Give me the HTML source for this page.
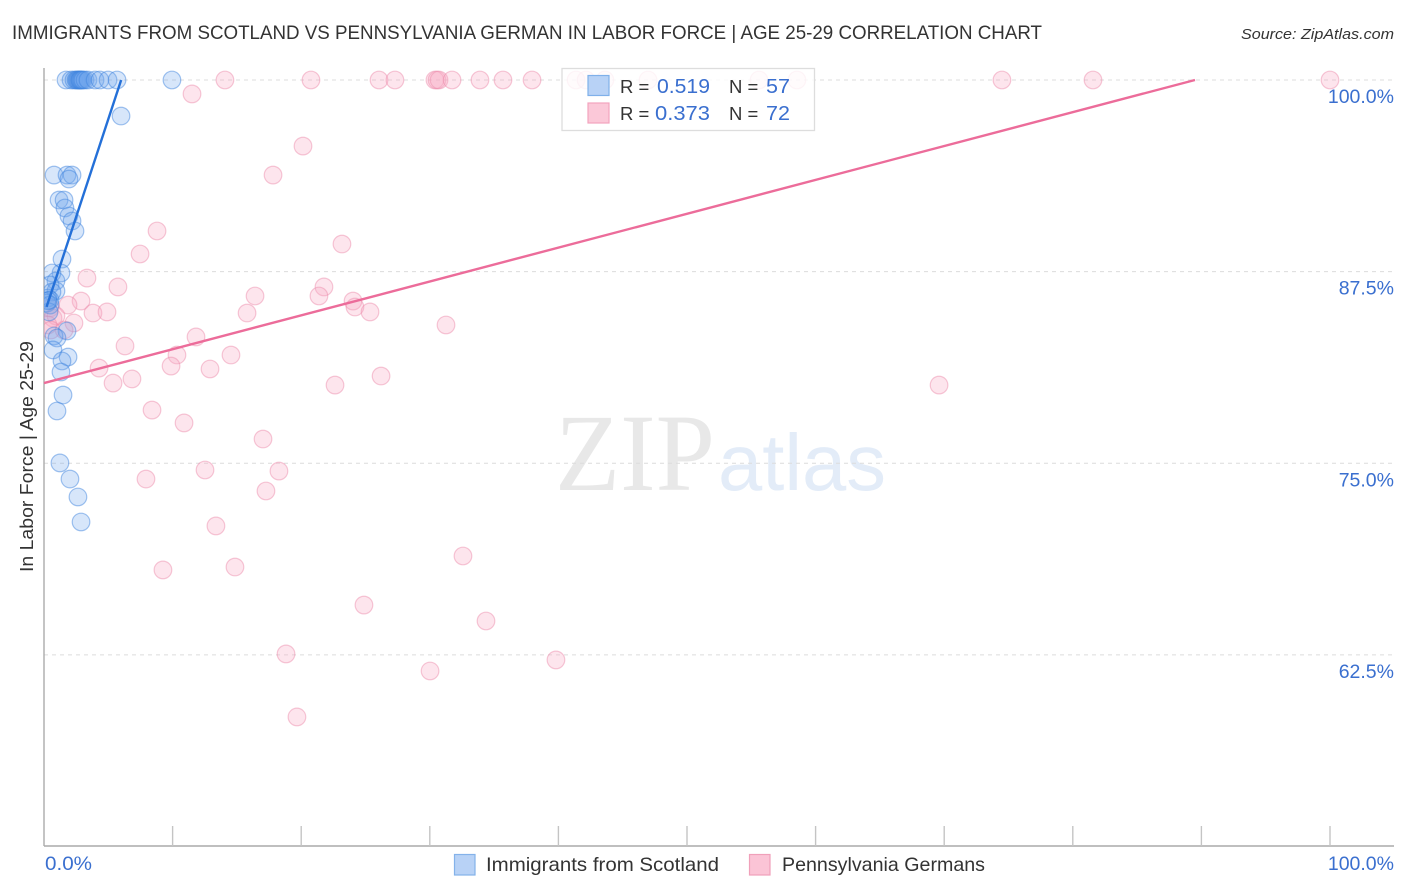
<!DOCTYPE html>
<html lang="en">
<head>
<meta charset="utf-8">
<title>Correlation Chart</title>
<style>
html,body{margin:0;padding:0;background:#fff;}
body{width:1406px;height:892px;overflow:hidden;}
svg{display:block;font-family:"Liberation Sans",sans-serif;}
</style>
</head>
<body>
<svg id="chart" width="1406" height="892" viewBox="0 0 1406 892" xmlns="http://www.w3.org/2000/svg">
  <defs>
    <clipPath id="plotClip"><rect x="44" y="60" width="1350" height="786"/></clipPath>
  </defs>
  <text x="12" y="39" font-size="19.5" fill="#333" textLength="1030" lengthAdjust="spacingAndGlyphs">IMMIGRANTS FROM SCOTLAND VS PENNSYLVANIA GERMAN IN LABOR FORCE | AGE 25-29 CORRELATION CHART</text>
  <text x="1241" y="39" font-size="15" font-style="italic" fill="#333" textLength="153" lengthAdjust="spacingAndGlyphs">Source: ZipAtlas.com</text>
  <g>
    <text x="555" y="490" font-family="'Liberation Serif',serif" font-size="110" fill="#e8e8e8" textLength="160" lengthAdjust="spacingAndGlyphs">ZIP</text>
    <text x="718" y="490" font-size="80" fill="#e3ecf8" textLength="168" lengthAdjust="spacingAndGlyphs">atlas</text>
  </g>
  <g id="grid"></g>
  <g id="axes"></g>
  <g id="pinkPoints" clip-path="url(#plotClip)"></g>
  <g id="bluePoints" clip-path="url(#plotClip)"></g>
  <g id="trends"></g>
  <text transform="translate(33,572) rotate(-90)" font-size="18" fill="#333" textLength="231" lengthAdjust="spacingAndGlyphs">In Labor Force | Age 25-29</text>
  <g id="yLabels"></g>
  <g id="xLabels"></g>

  <g>
    <rect x="562" y="68.500" width="252.500" height="62" fill="#fff" fill-opacity="0.82" stroke="#ddd" stroke-width="1.300"/>
    <rect x="588" y="75.500" width="21" height="20" fill="#b8d2f6" stroke="#7fb0ea" stroke-width="1.200"/>
    <rect x="588" y="103" width="21" height="20" fill="#fbc8d8" stroke="#f3a3bd" stroke-width="1.200"/>
    <text x="620" y="93" font-size="18.500" fill="#333">R =</text>
    <text x="657" y="93" font-size="20.500" fill="#3a6fcf" textLength="53" lengthAdjust="spacingAndGlyphs">0.519</text>
    <text x="729" y="93" font-size="18.500" fill="#333">N =</text>
    <text x="766" y="93" font-size="20.500" fill="#3a6fcf" textLength="24" lengthAdjust="spacingAndGlyphs">57</text>
    <text x="620" y="120" font-size="18.500" fill="#333">R =</text>
    <text x="655" y="120" font-size="20.500" fill="#3a6fcf" textLength="55" lengthAdjust="spacingAndGlyphs">0.373</text>
    <text x="729" y="120" font-size="18.500" fill="#333">N =</text>
    <text x="766" y="120" font-size="20.500" fill="#3a6fcf" textLength="24" lengthAdjust="spacingAndGlyphs">72</text>
  </g>

  <g>
    <rect x="454.500" y="854.500" width="20.500" height="20.500" fill="#b8d2f6" stroke="#84b2ea" stroke-width="1.200"/>
    <text x="486" y="871" font-size="19.500" fill="#333" textLength="233" lengthAdjust="spacingAndGlyphs">Immigrants from Scotland</text>
    <rect x="749.500" y="854.500" width="20.500" height="20.500" fill="#fbc4d6" stroke="#f0a0ba" stroke-width="1.200"/>
    <text x="782" y="871" font-size="19.500" fill="#333" textLength="203" lengthAdjust="spacingAndGlyphs">Pennsylvania Germans</text>
  </g>
</svg>
<script>
const yTicks = [100, 87.5, 75, 62.5];
const yTickLabels = ["100.0%", "87.5%", "75.0%", "62.5%"];
const xTicks = [0, 10, 20, 30, 40, 50, 60, 70, 80, 90, 100];
const xEndLabels = ["0.0%", "100.0%"];

const blueX = [1.71,2.10,2.33,2.49,2.57,2.64,2.72,2.80,2.80,2.88,2.95,3.03,3.19,3.42,3.97,4.35,4.98,5.68,9.95,
  5.99,0.78,1.79,2.18,1.94,1.17,1.56,1.63,1.94,2.18,2.41,1.40,1.32,0.62,0.93,0.47,0.93,0.62,0.31,0.47,0.23,0.47,0.39,
  1.79,0.78,1.01,0.70,1.87,1.40,1.32,1.48,1.01,1.24,2.02,2.64,2.88,0.31];
const blueY = [100,100,100,100,100,100,100,100,100,100,100,100,100,100,100,100,100,100,100,
  97.65,93.80,93.80,93.80,93.54,92.17,92.17,91.65,91.13,90.80,90.15,88.32,87.41,87.41,86.89,86.63,86.24,86.17,85.78,85.65,85.45,85.32,84.87,
  83.63,83.30,83.17,82.39,81.93,81.67,80.95,79.45,78.41,75.02,73.97,72.80,71.17,85.60];

const pinkX = [14.07,20.76,26.05,27.29,30.40,30.56,30.72,31.73,33.90,35.69,37.95,41.37,42.15,43.62,46.97,55.60,58.55,74.49,81.57,100,
  11.51,20.14,17.81,8.79,23.17,7.47,3.34,5.75,21.77,16.41,21.38,2.88,24.03,24.18,25.35,3.81,4.90,15.79,1.87,31.26,2.33,1.56,
  11.82,6.30,10.34,14.54,4.28,9.88,12.91,6.84,5.37,26.21,22.63,69.60,8.40,10.89,17.03,7.93,12.52,18.27,17.26,13.37,32.58,9.25,14.85,24.88,34.37,18.82,39.81,30.02,19.67,
  0.47];
const pinkY = [100,100,100,100,100,100,100,100,100,100,100,100,100,100,100,100,100,100,100,100,
  99.09,95.69,93.80,90.15,89.30,88.65,87.08,86.50,86.50,85.91,85.91,85.58,85.58,85.19,84.87,84.80,84.87,84.80,85.32,84.02,84.15,83.69,
  83.24,82.65,82.06,82.06,81.21,81.34,81.15,80.50,80.23,80.69,80.10,80.10,78.47,77.63,76.58,73.97,74.56,74.49,73.19,70.91,68.95,68.04,68.23,65.75,64.71,62.56,62.17,61.45,58.45,
  85.13];
const pinkExtraX = [0.70,0.93,0.31,0.54];
const pinkExtraY = [84.47,84.61,84.02,83.69];

const blueTrendX = [0.2, 6.0];
const blueTrendY = [85.2, 100];
const pinkTrendX = [0, 89.5];
const pinkTrendY = [80.23, 100];

const NS = "http://www.w3.org/2000/svg";
function xScale(v){ return 44 + v * 12.86; }
function yScale(v){ return 80 + (100 - v) * 15.33; }
function make(tag, attrs, parent){
  const el = document.createElementNS(NS, tag);
  for (const k in attrs) el.setAttribute(k, attrs[k]);
  parent.appendChild(el);
  return el;
}

const gridG = document.getElementById("grid");
const axesG = document.getElementById("axes");
const yLabelG = document.getElementById("yLabels");
const xLabelG = document.getElementById("xLabels");
const pinkG = document.getElementById("pinkPoints");
const blueG = document.getElementById("bluePoints");
const trendG = document.getElementById("trends");

yTicks.forEach(function(t, i){
  const line = make("line", {x1:44, x2:1394, y1:yScale(t), y2:yScale(t), stroke:"#dcdcdc", "stroke-width":1, "stroke-dasharray":"4 4"}, gridG);
  
  
  const label = make("text", {x:1394, y:yScale(t) + 23, "text-anchor":"end", "font-size":19.5, fill:"#3a6fcf"}, yLabelG);
  label.textContent = yTickLabels[i];
  
  
});

const yAxis = make("line", {x1:44, x2:44, y1:68, y2:846, stroke:"#aaa", "stroke-width":1.4}, axesG);


const xAxis = make("line", {x1:44, x2:1394, y1:846, y2:846, stroke:"#aaa", "stroke-width":1.4}, axesG);



xTicks.forEach(function(t){
  if (t === 0) return;
  const tick = make("line", {x1:xScale(t), x2:xScale(t), y1:826, y2:846, stroke:"#c4c4c4", "stroke-width":1.4}, axesG);
  
  
});

const xLabelLeft = make("text", {x:45, y:870, "font-size":19.5, fill:"#3a6fcf", textLength:47, lengthAdjust:"spacingAndGlyphs"}, xLabelG);
xLabelLeft.textContent = xEndLabels[0];


const xLabelRight = make("text", {x:1394, y:870, "text-anchor":"end", "font-size":19.5, fill:"#3a6fcf"}, xLabelG);
xLabelRight.textContent = xEndLabels[1];



pinkX.concat(pinkExtraX).forEach(function(v, i){
  const yVal = pinkY.concat(pinkExtraY)[i];
  const c = make("circle", {cx:xScale(v), cy:yScale(yVal), r:8.8, fill:"#f9a8c2", "fill-opacity":0.3, stroke:"#ec8dab", "stroke-opacity":0.48, "stroke-width":1.2}, pinkG);
  
  
});

blueX.forEach(function(v, i){
  const c = make("circle", {cx:xScale(v), cy:yScale(blueY[i]), r:8.8, fill:"#6ea6ee", "fill-opacity":0.28, stroke:"#3f83de", "stroke-opacity":0.48, "stroke-width":1.2}, blueG);
  
  
});

const pinkTrend = make("line", {x1:xScale(pinkTrendX[0]), y1:yScale(pinkTrendY[0]), x2:xScale(pinkTrendX[1]), y2:yScale(pinkTrendY[1]), stroke:"#ec6c9a", "stroke-width":2.4}, trendG);


const blueTrend = make("line", {x1:xScale(blueTrendX[0]), y1:yScale(blueTrendY[0]), x2:xScale(blueTrendX[1]), y2:yScale(blueTrendY[1]), stroke:"#2470d8", "stroke-width":2.4}, trendG);


</script>
</body>
</html>
